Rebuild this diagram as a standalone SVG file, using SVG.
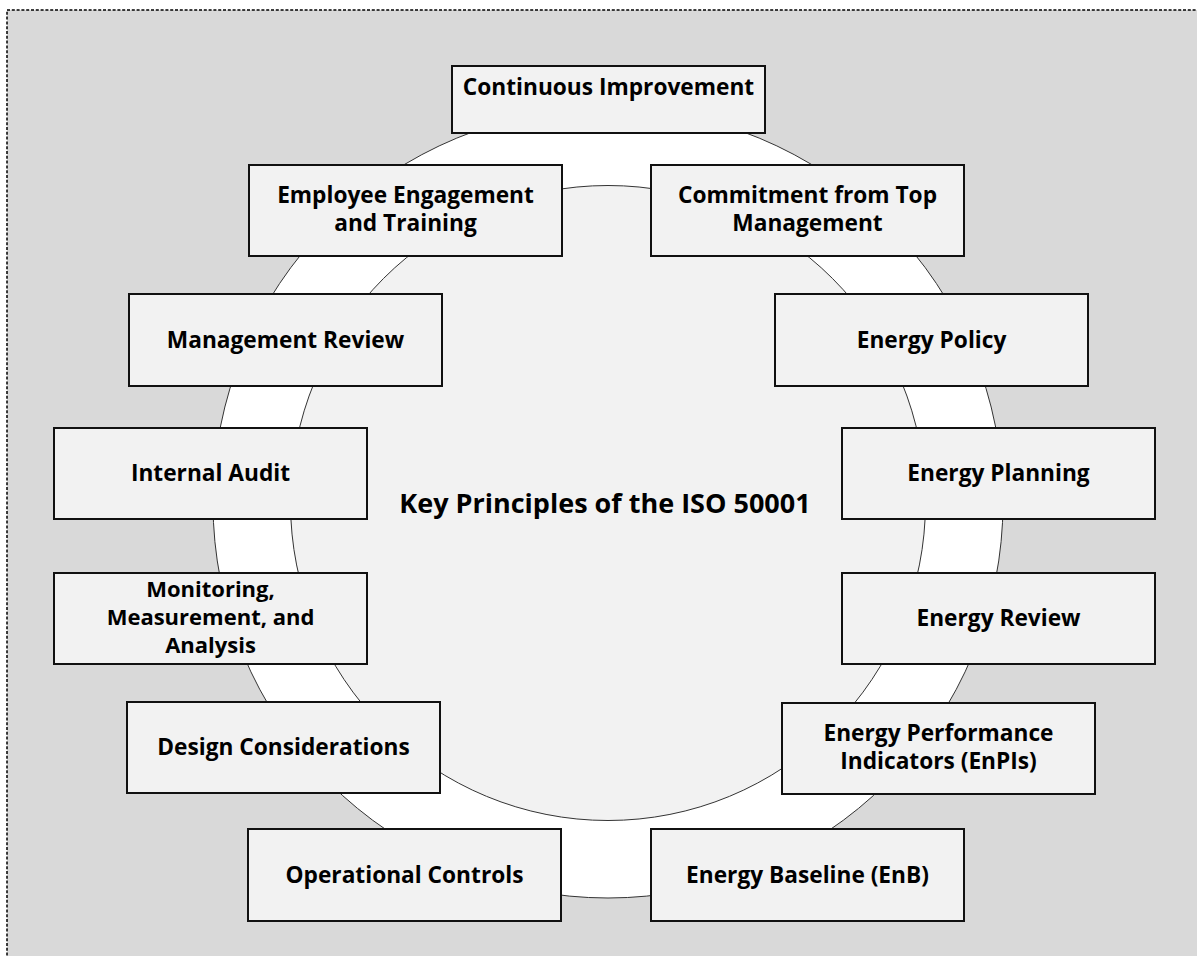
<svg xmlns="http://www.w3.org/2000/svg" width="1197" height="956" viewBox="0 0 1197 956">
<style>
.box{fill:#f2f2f2;stroke:#111;stroke-width:2}
.t{font-family:"Open Sans","Noto Sans","Liberation Sans",sans-serif;font-weight:bold;font-size:22.7px;fill:#000;text-anchor:middle}
.title{font-size:27px}
.s{font-size:22px}
</style>
<rect x="7" y="10" width="1200" height="960" fill="#d9d9d9" stroke="#000" stroke-width="1.5" stroke-dasharray="3 1.8"/>
<g id="ring">
<circle cx="608" cy="503" r="395" fill="#ffffff" stroke="#333" stroke-width="1"/>
<circle cx="608" cy="503" r="317.5" fill="#f2f2f2" stroke="#333" stroke-width="1"/>
</g>
<g id="connectors"></g>
<g id="center"><text class="t title" x="605" y="513">Key Principles of the ISO 50001</text></g>
<g id="n1"><rect class="box" x="452" y="66" width="313" height="67"/><text class="t" x="608.5" y="95">Continuous Improvement</text></g>
<g id="n2"><rect class="box" x="249" y="165" width="313" height="91"/><text class="t" x="405.5" y="203">Employee Engagement</text><text class="t" x="405.5" y="231">and Training</text></g>
<g id="n3"><rect class="box" x="651" y="165" width="313" height="91"/><text class="t" x="807.5" y="203">Commitment from Top</text><text class="t" x="807.5" y="231">Management</text></g>
<g id="n4"><rect class="box" x="129" y="294" width="313" height="92"/><text class="t" x="285.5" y="348">Management Review</text></g>
<g id="n5"><rect class="box" x="775" y="294" width="313" height="92"/><text class="t" x="931.5" y="348">Energy Policy</text></g>
<g id="n6"><rect class="box" x="54" y="428" width="313" height="91"/><text class="t" x="210.5" y="481">Internal Audit</text></g>
<g id="n7"><rect class="box" x="842" y="428" width="313" height="91"/><text class="t" x="998.5" y="481">Energy Planning</text></g>
<g id="n8"><rect class="box" x="54" y="573" width="313" height="91"/><text class="t s" x="210.5" y="597">Monitoring,</text><text class="t s" x="210.5" y="625">Measurement, and</text><text class="t s" x="210.5" y="653">Analysis</text></g>
<g id="n9"><rect class="box" x="842" y="573" width="313" height="91"/><text class="t" x="998.5" y="626">Energy Review</text></g>
<g id="n10"><rect class="box" x="127" y="702" width="313" height="91"/><text class="t" x="283.5" y="755">Design Considerations</text></g>
<g id="n11"><rect class="box" x="782" y="703" width="313" height="91"/><text class="t" x="938.5" y="741">Energy Performance</text><text class="t" x="938.5" y="769">Indicators (EnPIs)</text></g>
<g id="n12"><rect class="box" x="248" y="829" width="313" height="92"/><text class="t" x="404.5" y="883">Operational Controls</text></g>
<g id="n13"><rect class="box" x="651" y="829" width="313" height="92"/><text class="t" x="807.5" y="883">Energy Baseline (EnB)</text></g>
</svg>
